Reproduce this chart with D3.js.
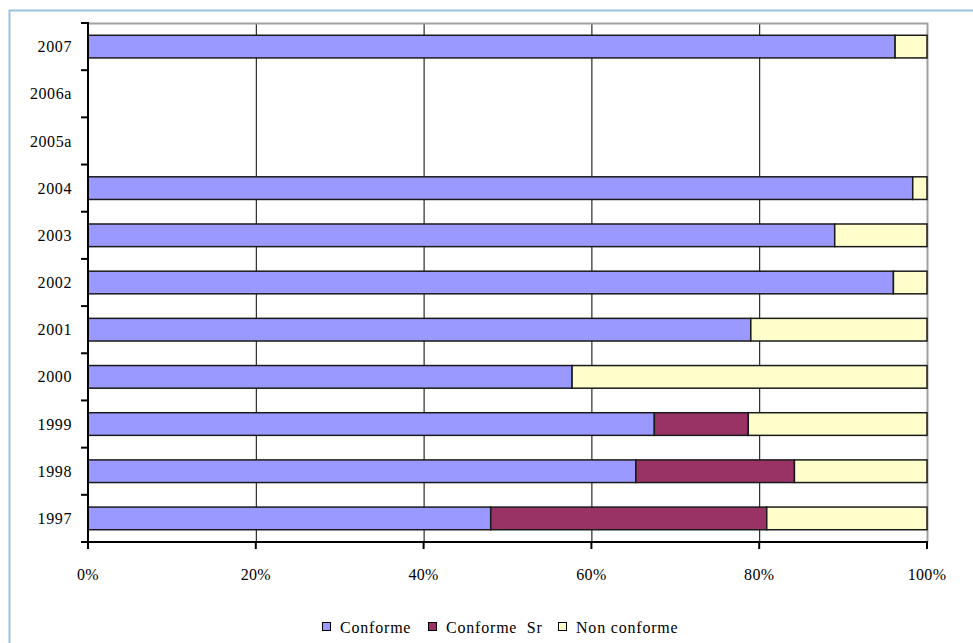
<!DOCTYPE html>
<html><head><meta charset="utf-8">
<script src="https://cdn.jsdelivr.net/npm/d3@7"></script>
<style>body{margin:0;background:#fff}svg{display:block}text{font-family:"Liberation Serif","Times New Roman",serif;fill:#000;white-space:pre}</style>
</head><body><svg id="c" width="973" height="643"></svg>
<script>
const categories = ["2007","2006a","2005a","2004","2003","2002","2001","2000","1999","1998","1997"];
const conforme    = [96.2, 0, 0, 98.3, 89.0, 96.0, 79.0, 57.7, 67.5, 65.3, 48.0];
const conformeSr  = [0, 0, 0, 0, 0, 0, 0, 0, 11.2, 18.9, 32.9];
const nonConforme = [3.8, 0, 0, 1.7, 11.0, 4.0, 21.0, 42.3, 21.3, 15.8, 19.1];
const seriesNames = ["Conforme","Conforme  Sr","Non conforme"];
const colors = ["#9999ff","#993366","#ffffcc"];
const xTicks = [0,20,40,60,80,100];
const xTickLabels = ["0%","20%","40%","60%","80%","100%"];

const svg = d3.select("#c");
// outer frame
svg.append("rect").attr("x",9.5).attr("y",10.5).attr("width",980).attr("height",700)
  .attr("fill","none").attr("stroke","#9cc2dc").attr("stroke-width",2);

const L=88, R=927, T=23, B=542;
const x = d3.scaleLinear().domain([0,100]).range([L,R]);
const y = d3.scaleBand().domain(categories).range([T,B]).paddingInner(0.52).paddingOuter(0.26);

// gridlines
svg.append("g").selectAll("line").data(xTicks.slice(1,5)).join("line")
  .attr("x1",d=>x(d)+0.5).attr("x2",d=>x(d)+0.5).attr("y1",T).attr("y2",B)
  .attr("stroke","#000").attr("stroke-width",1);
// plot border top/right gray
svg.append("path").attr("d",`M${L},${T+0.5}H${R+0.5}V${B}`).attr("fill","none").attr("stroke","#a0a0a0").attr("stroke-width",2);

const stackData = categories.map((c,i)=>({cat:c, s0:conforme[i], s1:conformeSr[i], s2:nonConforme[i]}));
const stack = d3.stack().keys(["s0","s1","s2"])(stackData);
const g = svg.append("g");
stack.forEach((layer,k)=>{
  g.selectAll(null).data(layer.filter(d=>d[1]-d[0]>0)).join("rect")
    .attr("x",d=>x(d[0])).attr("width",d=>x(d[1])-x(d[0]))
    .attr("y",d=>y(d.data.cat)).attr("height",y.bandwidth())
    .attr("fill",colors[k]).attr("stroke","#1a1a1a").attr("stroke-width",1.5);
});

// axes
const yAxis = svg.append("g").attr("transform",`translate(${L},0)`);
yAxis.append("line").attr("x1",0).attr("x2",0).attr("y1",T-1).attr("y2",B+6).attr("stroke","#000").attr("stroke-width",2);
const step = (B-T)/categories.length;
yAxis.selectAll(".tk").data(d3.range(categories.length+1)).join("line")
  .attr("x1",-7).attr("x2",0).attr("y1",i=>T+i*step).attr("y2",i=>T+i*step).attr("stroke","#000").attr("stroke-width",2);
yAxis.selectAll("text").data(categories).join("text")
  .attr("x",-16).attr("y",d=>y(d)+y.bandwidth()/2).attr("dy","0.35em")
  .attr("text-anchor","end").attr("font-size",16).attr("letter-spacing","0.6")
  .text(d=>d);

const xAxis = svg.append("g");
xAxis.append("line").attr("x1",L-7).attr("x2",R+1).attr("y1",B).attr("y2",B).attr("stroke","#000").attr("stroke-width",2);
xAxis.selectAll(".tk").data(xTicks).join("line")
  .attr("x1",d=>x(d)).attr("x2",d=>x(d)).attr("y1",B).attr("y2",B+7).attr("stroke","#000").attr("stroke-width",2);
xAxis.selectAll("text").data(xTicks).join("text")
  .attr("x",d=>x(d)).attr("y",574).attr("dy","0.35em").attr("text-anchor","middle")
  .attr("font-size",16).attr("letter-spacing","0.3").text((d,i)=>xTickLabels[i]);

// legend
const legX = [322, 428, 558];
const lg = svg.append("g");
seriesNames.forEach((n,i)=>{
  lg.append("rect").attr("x",legX[i]+0.5).attr("y",622.5).attr("width",8).attr("height",8)
    .attr("fill",colors[i]).attr("stroke","#000").attr("stroke-width",1);
  lg.append("text").attr("x",legX[i]+18).attr("y",627).attr("dy","0.35em").attr("font-size",16).attr("letter-spacing","0.8").text(n);
});
</script></body></html>
